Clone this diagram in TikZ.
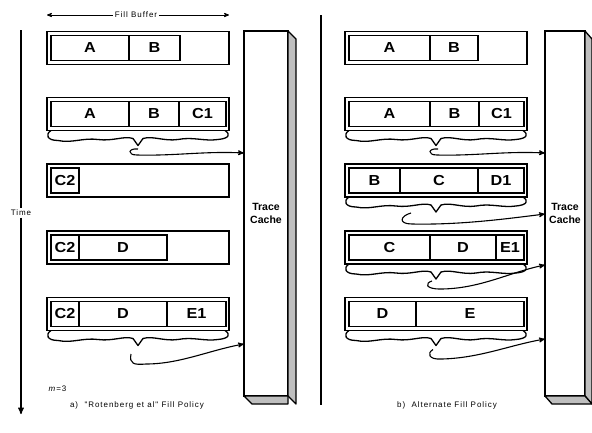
\documentclass[tikz,border=0pt]{standalone}
\usepackage{fontspec}
\setmainfont{Liberation Sans}
\newfontfamily\thinfont[LetterSpace=12]{Liberation Sans}
\newfontfamily\widefont[FakeStretch=1.12]{Liberation Sans}
\usetikzlibrary{arrows,calc,positioning}

\begin{document}
\begin{tikzpicture}[x=1pt, y=-1pt, >=stealth', line width=1.3pt,
    buffer/.style={draw, rectangle, minimum width=182pt, minimum height=33pt, inner sep=0pt, outer sep=0pt},
    cell/.style={draw, rectangle, minimum height=25pt, inner sep=0pt, outer sep=0pt, font=\fontsize{14.5}{14.5}\selectfont\widefont\bfseries},
    cache/.style={draw, fill=white, rectangle, minimum height=365pt, inner sep=0pt, outer sep=0pt, align=center, font=\fontsize{10.5}{13}\selectfont\bfseries},
    side/.style={draw, fill=gray!50, line join=round},
    note/.style={font=\fontsize{8}{10}\selectfont\thinfont, inner sep=1pt},
    brace/.style={line join=round},
    feed/.style={->, line width=1.1pt}]

    \useasboundingbox (0,0) rectangle (592,432);

    % a) left policy
    \node[note] (fb) at (136,15) {Fill Buffer};
    \coordinate (fbL) at (47,15);
    \coordinate (fbR) at (229,15);
    \draw[->, line width=0.8pt] (fb) -- (fbL);
    \draw[->, line width=0.8pt] (fb) -- (fbR);

    \node[note] (time) at (21,213) {Time};
    \coordinate (t0) at (21,30);
    \coordinate (t1) at (21,414);
    \draw (t0) -- (time);
    \draw[->] (time) -- (t1);

    \node[buffer] (a1) at (138,48) {};
    \node[cell, minimum width=78pt, right=4pt of a1.west] (a1A) {A};
    \node[cell, minimum width=51pt, right=0pt of a1A]     (a1B) {B};

    \node[buffer] (a2) at (138,114) {};
    \node[cell, minimum width=78pt, right=4pt of a2.west] (a2A) {A};
    \node[cell, minimum width=50pt, right=0pt of a2A]     (a2B) {B};
    \node[cell, minimum width=47pt, right=0pt of a2B]     (a2C) {C1};

    \node[buffer] (a3) at (138,180.5) {};
    \node[cell, minimum width=28pt, right=4pt of a3.west] (a3C) {C2};

    \node[buffer] (a4) at (138,247.5) {};
    \node[cell, minimum width=28pt, right=4pt of a4.west] (a4C) {C2};
    \node[cell, minimum width=88pt, right=0pt of a4C]     (a4D) {D};

    \node[buffer] (a5) at (138,314) {};
    \node[cell, minimum width=28pt, right=4pt of a5.west] (a5C) {C2};
    \node[cell, minimum width=88pt, right=0pt of a5C]     (a5D) {D};
    \node[cell, minimum width=59pt, right=0pt of a5D]     (a5E) {E1};

    \node[cache, minimum width=44pt] (tcA) at (266,213.5) {Trace\\Cache};
    \draw[side] (tcA.north east) -- ++(8,8) -- ++(0,365) -- (tcA.south east) -- cycle;
    \draw[side] (tcA.south west) -- ++(8,8) -- ++(36,0) -- (tcA.south east) -- cycle;

    \node[note, anchor=west] (mval) at (47,389) {\textit{m}=3};
    \node[note] (capA) at (137,405) {a)\ \ "Rotenberg et al" Fill Policy};

    % b) right policy
    \coordinate (s0) at (321,15);
    \coordinate (s1) at (321,405);
    \draw (s0) -- (s1);

    \node[buffer] (b1) at (436,48) {};
    \node[cell, minimum width=81pt, right=4pt of b1.west] (b1A) {A};
    \node[cell, minimum width=48pt, right=0pt of b1A]     (b1B) {B};

    \node[buffer] (b2) at (436,114) {};
    \node[cell, minimum width=81pt, right=4pt of b2.west] (b2A) {A};
    \node[cell, minimum width=49pt, right=0pt of b2A]     (b2B) {B};
    \node[cell, minimum width=45pt, right=0pt of b2B]     (b2C) {C1};

    \node[buffer] (b3) at (436,180.5) {};
    \node[cell, minimum width=51pt, right=4pt of b3.west] (b3B) {B};
    \node[cell, minimum width=78pt, right=0pt of b3B]     (b3C) {C};
    \node[cell, minimum width=46pt, right=0pt of b3C]     (b3D) {D1};

    \node[buffer] (b4) at (436,247.5) {};
    \node[cell, minimum width=81pt, right=4pt of b4.west] (b4C) {C};
    \node[cell, minimum width=66pt, right=0pt of b4C]     (b4D) {D};
    \node[cell, minimum width=28pt, right=0pt of b4D]     (b4E) {E1};

    \node[buffer] (b5) at (436,314) {};
    \node[cell, minimum width=67pt, right=4pt of b5.west] (b5D) {D};
    \node[cell, minimum width=108pt, right=0pt of b5D]    (b5E) {E};

    \node[cache, minimum width=40pt] (tcB) at (565,213.5) {Trace\\Cache};
    \draw[side] (tcB.north east) -- ++(7,8) -- ++(0,365) -- (tcB.south east) -- cycle;
    \draw[side] (tcB.south west) -- ++(7,8) -- ++(40,0) -- (tcB.south east) -- cycle;

    \node[note] (capB) at (447,405) {b)\ \ Alternate Fill Policy};

    % braces under the full buffers
    \foreach \b in {a2,a5,b2,b3,b4,b5}{
        \begin{scope}[shift={(\b.south)}]
            \draw[brace] (-87,0) .. controls (-93,4) and (-91,10) .. (-80,10)
                .. controls (-66,13) and (-55,7) .. (-40,9)
                .. controls (-25,11) and (-14,5) .. (-5,8)
                -- (0,15) -- (5,8)
                .. controls (15,5) and (26,11) .. (40,9)
                .. controls (55,6) and (66,11) .. (80,9)
                .. controls (91,8) and (93,4) .. (87,0);
            \coordinate (\b-tip) at (0,15);
        \end{scope}
    }

    \draw[feed] ([shift={(0,3.5)}]a2-tip) .. controls (128,148) and (127,155) .. (137,155)
        .. controls (175,156) and (205,151) .. (tcA.west |- 0,153);
    \draw[feed] ([shift={(-7,8.5)}]a5-tip) .. controls (129,364) and (134,365) .. (146,364)
        .. controls (180,364) and (210,350) .. (tcA.west |- 0,344);
    \draw[feed] ([shift={(2,3.5)}]b2-tip) .. controls (428,148) and (427,155) .. (437,155)
        .. controls (475,156) and (505,151) .. (tcB.west |- 0,153);
    \draw[feed] ([shift={(-25,1)}]b3-tip) .. controls (400,216) and (398,224) .. (412,224)
        .. controls (460,225) and (505,219) .. (tcB.west |- 0,214);
    \draw[feed] ([shift={(-4,2)}]b4-tip) .. controls (425,283) and (425,289) .. (440,289)
        .. controls (480,289) and (510,272) .. (tcB.west |- 0,265);
    \draw[feed] ([shift={(-3,4)}]b5-tip) .. controls (427,353) and (428,360) .. (442,359)
        .. controls (480,358) and (510,345) .. (tcB.west |- 0,339);

\end{tikzpicture}
\end{document}
